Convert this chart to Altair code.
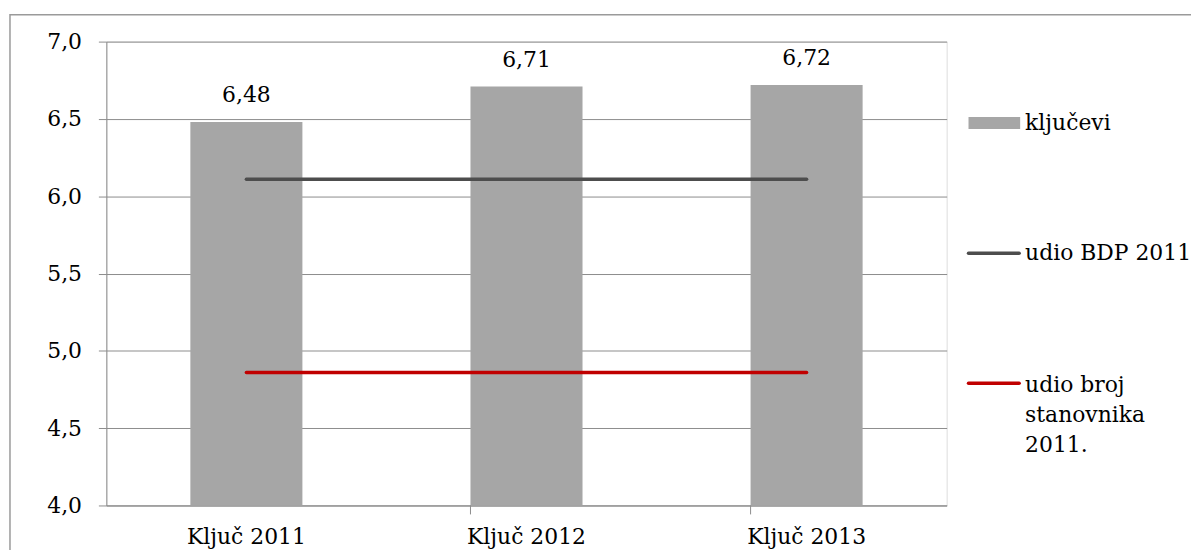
import altair as alt
import pandas as pd

categories = ["Ključ 2011", "Ključ 2012", "Ključ 2013"]
kljucevi = [6.48, 6.71, 6.72]
udio_bdp = [6.11, 6.11, 6.11]
udio_stanovnika = [4.86, 4.86, 4.86]
y_ticks = [4.0, 4.5, 5.0, 5.5, 6.0, 6.5, 7.0]
legend_labels = ["ključevi", "udio BDP 2011", "udio broj stanovnika 2011."]
legend_lines_3 = ["udio broj", "stanovnika", "2011."]

FONT = "DejaVu Serif"
FS = 22
W, H = 846, 467

bars_df = pd.DataFrame({"cat": categories, "v": kljucevi})
lines_df = pd.DataFrame({
    "cat": categories * 2,
    "v": udio_bdp + udio_stanovnika,
    "s": [legend_labels[1]] * 3 + [legend_labels[2]] * 3,
})

xscale = alt.Scale(domain=categories, paddingInner=0.6, paddingOuter=0.3)
yscale = alt.Scale(domain=[4, 7], zero=False, nice=False)

base = alt.Chart(bars_df)

frame = alt.Chart(pd.DataFrame({"a": [0]})).mark_rect(
    fill=None, stroke="#9a9a9a", strokeWidth=1.5
).encode(x=alt.value(-97), x2=alt.value(1300), y=alt.value(-27), y2=alt.value(700))

bars = base.mark_bar(color="#a6a6a6").encode(
    x=alt.X("cat:N", scale=xscale, sort=categories, title=None,
            axis=alt.Axis(ticks=False, labelAngle=0, labelPadding=21,
                          domainColor="#8c8c8c", labelFont=FONT, labelFontSize=FS,
                          labelColor="#000000")),
    y=alt.Y("v:Q", scale=yscale, title=None,
            axis=alt.Axis(values=y_ticks, tickSize=8, tickColor="#8c8c8c",
                          domainColor="#8c8c8c", gridColor="#8c8c8c", grid=True,
                          labelFont=FONT, labelFontSize=FS, labelColor="#000000",
                          labelPadding=17,
                          labelExpr="replace(format(datum.value, '.1f'), '.', ',')")),
    y2=alt.Y2(datum=4),
)

labels = base.transform_calculate(
    t="replace(format(datum.v, '.2f'), '.', ',')"
).mark_text(font=FONT, fontSize=FS, baseline="bottom", dy=-15, color="#000000").encode(
    x=alt.X("cat:N", scale=xscale, sort=categories),
    y=alt.Y("v:Q", scale=yscale),
    text="t:N",
)

lines = alt.Chart(lines_df).mark_line(strokeWidth=3.5, strokeCap="round").encode(
    x=alt.X("cat:N", scale=xscale, sort=categories),
    y=alt.Y("v:Q", scale=yscale),
    color=alt.Color("s:N", scale=alt.Scale(domain=legend_labels[1:], range=["#4d4d4d", "#c00000"]),
                    legend=None),
    detail="s:N",
)

xticks = alt.Chart(pd.DataFrame({"cat": categories[1:]})).mark_rule(
    color="#8c8c8c", strokeWidth=1
).encode(
    x=alt.X("cat:N", scale=xscale, sort=categories, bandPosition=0),
    y=alt.value(H), y2=alt.value(H + 9),
)

LX = 868
leg_rect = alt.Chart(pd.DataFrame({"a": [0]})).mark_rect(color="#a6a6a6").encode(
    x=alt.value(LX), x2=alt.value(LX + 52), y=alt.value(76), y2=alt.value(88))
leg_bdp = alt.Chart(pd.DataFrame({"a": [0]})).mark_rule(color="#4d4d4d", strokeWidth=3.5, strokeCap="round").encode(
    x=alt.value(LX), x2=alt.value(LX + 51), y=alt.value(213))
leg_red = alt.Chart(pd.DataFrame({"a": [0]})).mark_rule(color="#c00000", strokeWidth=3.5, strokeCap="round").encode(
    x=alt.value(LX), x2=alt.value(LX + 51), y=alt.value(344))

def leg_text(label, ypos):
    return alt.Chart(pd.DataFrame({"t": [label]})).mark_text(
        font=FONT, fontSize=FS, align="left", baseline="middle", color="#000000"
    ).encode(x=alt.value(LX + 57), y=alt.value(ypos), text="t:N")

chart = alt.layer(
    frame, bars, lines, labels, xticks,
    leg_rect, leg_bdp, leg_red,
    leg_text(legend_labels[0], 82), leg_text(legend_labels[1], 213),
    leg_text(legend_lines_3[0], 346), leg_text(legend_lines_3[1], 376), leg_text(legend_lines_3[2], 406),
).properties(
    width=W, height=H,
    autosize=alt.AutoSizeParams(type="none"),
    padding={"left": 99, "top": 32, "right": 246, "bottom": 43},
).configure_view(stroke="#8c8c8c", strokeWidth=1).configure(background="white")

chart.save("out.html", embed_options={"renderer": "svg", "actions": False})
